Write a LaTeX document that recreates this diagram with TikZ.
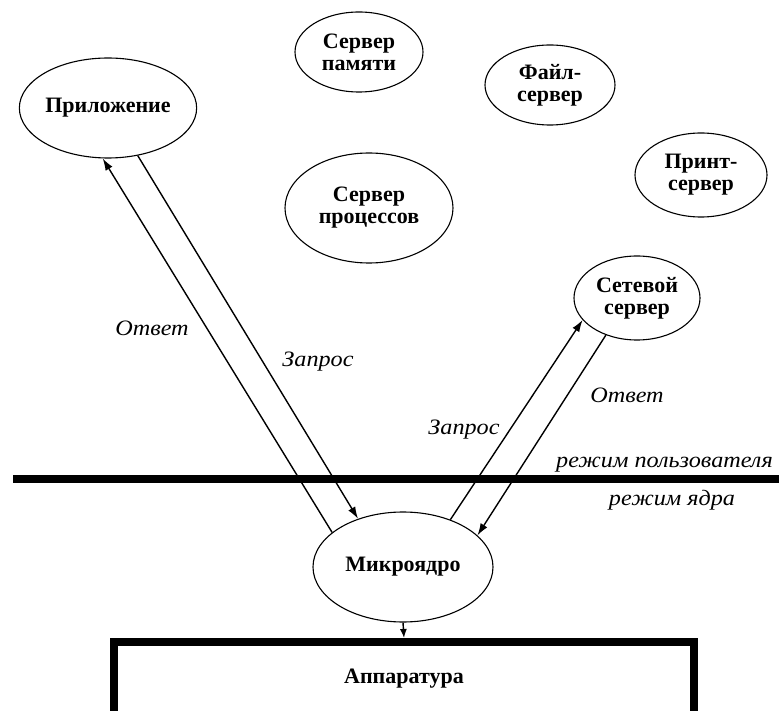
\documentclass[tikz,border=0pt]{standalone}
\usepackage{fontspec}
\setmainfont{Liberation Serif}
\newfontfamily\lblfont[FakeStretch=1.1]{Liberation Serif}
\usetikzlibrary{shapes.geometric,arrows.meta}
\tikzset{
  srv/.style={ellipse, draw, line width=1.1pt, inner sep=0pt, align=center,
    font=\fontsize{22}{22}\selectfont\bfseries},
  conn/.style={line width=1.4pt, -{Latex[length=12pt,width=8pt]}},
  lbl/.style={inner sep=0pt, font=\lblfont\fontsize{22}{22}\selectfont\itshape},
  hwbox/.style={rectangle, draw, line width=8pt, inner sep=0pt,
    font=\fontsize{22}{22}\selectfont\bfseries}
}
\begin{document}
\begin{tikzpicture}[x=1pt,y=-1pt]
\useasboundingbox (0,0) rectangle (779,711);
% user-mode servers
\node[srv, minimum width=173pt, minimum height=100pt] (app) at (108,108) {Приложение};
\node[srv, minimum width=128pt, minimum height=80pt] (mem) at (359,52) {Сервер\\памяти};
\node[srv, minimum width=130pt, minimum height=80pt] (file) at (550,85) {Файл-\\сервер};
\node[srv, minimum width=132pt, minimum height=84pt] (print) at (701,175) {Принт-\\сервер};
\node[srv, minimum width=168pt, minimum height=110pt] (proc) at (369,208) {Сервер\\процессов};
\node[srv, minimum width=126pt, minimum height=84pt] (net) at (637,298) {Сетевой\\сервер};
% kernel and hardware
\node[srv, minimum width=180pt, minimum height=110pt] (mk) at (403,567) {Микроядро};
\node[hwbox, minimum width=580pt, minimum height=73pt] (hw) at (404,678.5) {Аппаратура};
% boundary between user mode and kernel mode
\draw[line width=8pt] (13,479) -- (790,479);
\node[lbl, anchor=west] (um) at (556,465) {режим пользователя};
\node[lbl] (km) at (672,500) {режим ядра};
% messages
\draw[conn] (mk.154) -- (app.264);
\draw[conn] (app.302) -- (mk.133);
\draw[conn] (mk.45) -- (net.202);
\draw[conn] (net.230) -- (mk.23);
\draw[conn, -{Latex[length=9pt,width=7pt]}] (mk.south) -- (hw.north);
\node[lbl] (l1) at (152,328) {Ответ};
\node[lbl] (l2) at (318,362) {Запрос};
\node[lbl] (l3) at (464,430) {Запрос};
\node[lbl] (l4) at (627,395) {Ответ};
\end{tikzpicture}
\end{document}
